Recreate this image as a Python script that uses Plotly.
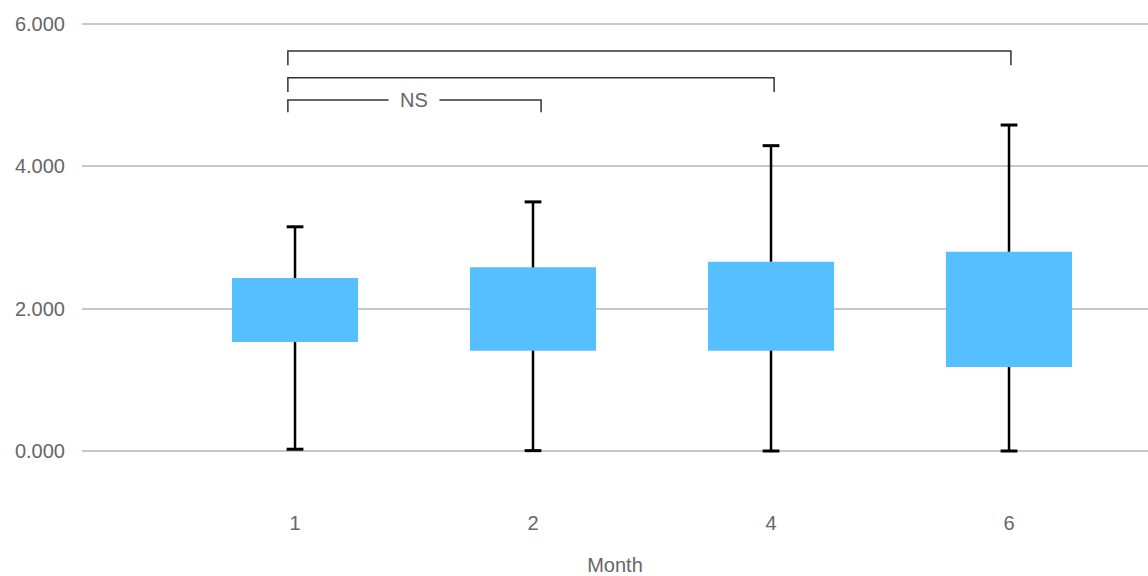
import plotly.graph_objects as go

# ---- data ----
months = ["1", "2", "4", "6"]
lower = [0.025, 0.005, 0.0, 0.0]
q1 = [1.53, 1.41, 1.41, 1.18]
q3 = [2.43, 2.58, 2.66, 2.80]
upper = [3.15, 3.50, 4.29, 4.58]

# significance brackets (x in category-index units)
bracket_start = [-0.03, -0.03, -0.03]
bracket_end = [3.008, 2.013, 1.034]
bracket_y = [5.62, 5.245, 4.93]
bracket_drop = [0.20, 0.20, 0.17]
bracket_label = ["", "", "NS"]

y_ticks = [0, 2, 4, 6]

pos = list(range(len(months)))
box_color = "#56BFFF"
FONT = "Liberation Sans, Arial, sans-serif"

fig = go.Figure()

# boxes
fig.add_trace(go.Bar(
    x=pos, y=[b - a for a, b in zip(q1, q3)], base=q1,
    width=0.53, marker=dict(color=box_color, line=dict(width=0)),
    hoverinfo="skip", showlegend=False))

# whiskers
wx, wy = [], []
for i, lo, a, b, hi in zip(pos, lower, q1, q3, upper):
    wx += [i, i, None, i, i, None]
    wy += [lo, a, None, b, hi, None]
fig.add_trace(go.Scatter(x=wx, y=wy, mode="lines",
                         line=dict(color="black", width=2.5),
                         hoverinfo="skip", showlegend=False))

# caps
fig.add_trace(go.Scatter(
    x=pos + pos, y=lower + upper, mode="markers",
    marker=dict(symbol="line-ew-open", size=12, color="black",
                line=dict(color="black", width=3)),
    hoverinfo="skip", showlegend=False))

# brackets
for xs, xe, yb, d, lab in zip(bracket_start, bracket_end, bracket_y, bracket_drop, bracket_label):
    fig.add_trace(go.Scatter(
        x=[xs, xs, xe, xe], y=[yb - d, yb, yb, yb - d], mode="lines",
        line=dict(color="#333333", width=1.5),
        hoverinfo="skip", showlegend=False))
    if lab:
        fig.add_annotation(x=(xs + xe) / 2, y=yb,
                           text="\u00a0\u00a0" + lab + "\u00a0\u00a0",
                           showarrow=False, bgcolor="white", borderpad=0,
                           font=dict(size=20, color="#666666", family=FONT),
                           xref="x", yref="y")

fig.update_layout(
    width=1148, height=576,
    margin=dict(l=82, r=0, t=10, b=86, pad=0),
    paper_bgcolor="white", plot_bgcolor="white",
    font=dict(family=FONT, size=20, color="#666666"),
    xaxis=dict(
        range=[-0.895, 3.584], tickmode="array", tickvals=pos, ticktext=months,
        showgrid=False, zeroline=False, showline=False, ticks="",
        ticklabelstandoff=19, automargin=False,
        title=dict(text="Month", font=dict(size=20, color="#666666"), standoff=26),
    ),
    yaxis=dict(
        range=[-0.548, 6.196], tickmode="array", tickvals=y_ticks,
        tickformat=".3f", showgrid=True, gridcolor="#C8C8C8", gridwidth=2,
        zeroline=False, showline=False, ticks="", ticklabelstandoff=16,
        automargin=False,
    ),
)

fig.write_html("out.html", config={"displayModeBar": False},
               post_script="document.body.style.margin='0';")
